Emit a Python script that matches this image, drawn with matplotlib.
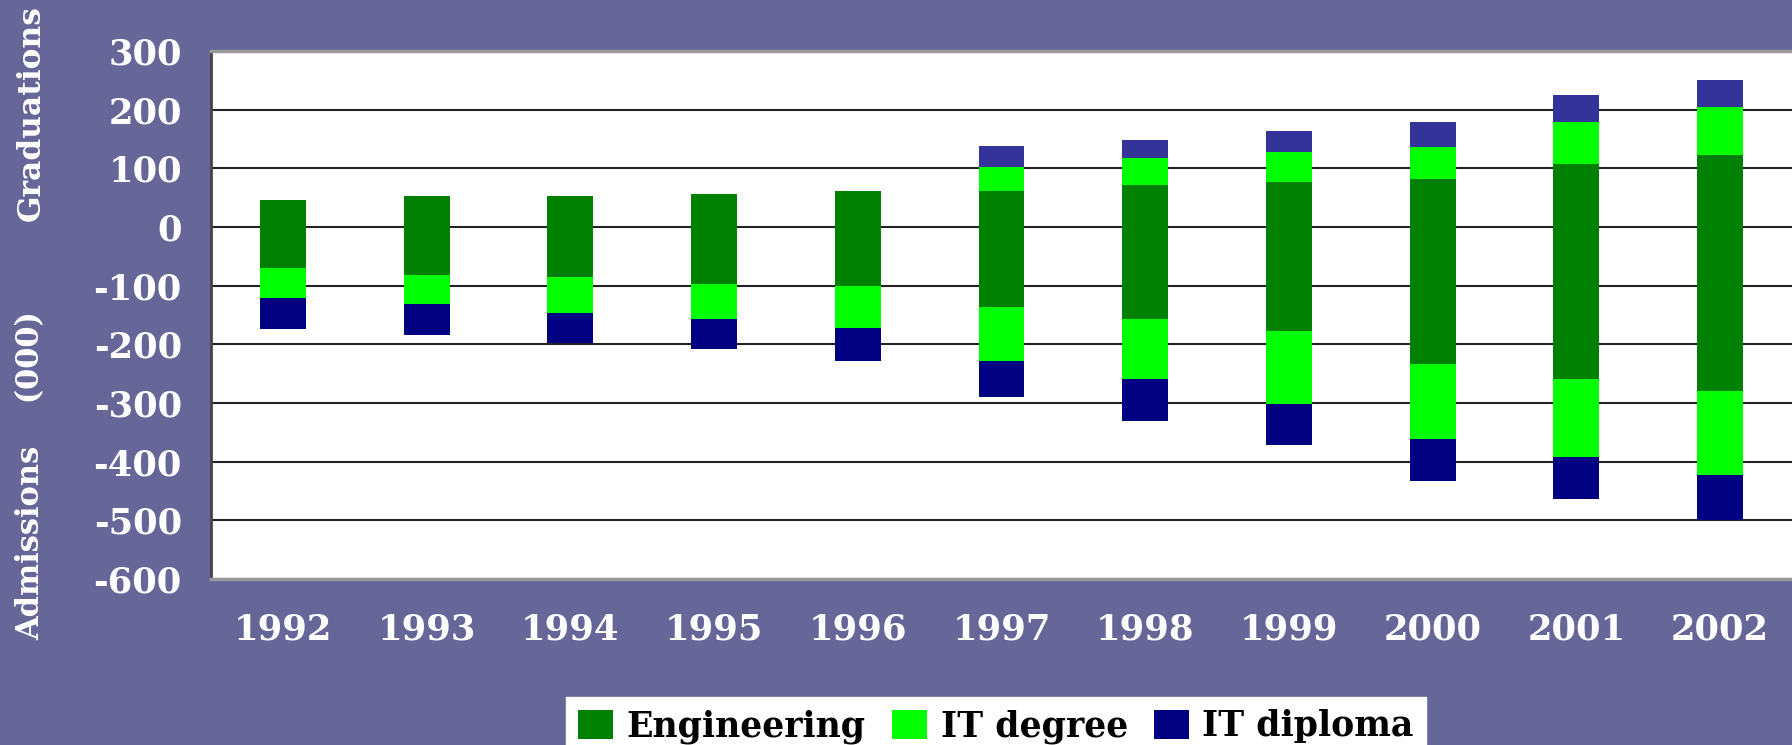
import matplotlib
matplotlib.use("Agg")
import matplotlib.pyplot as plt
import numpy as np
from matplotlib.patches import Patch

years = ["1992", "1993", "1994", "1995", "1996", "1997", "1998", "1999", "2000", "2001", "2002"]

# Graduations (positive, thousands)
eng_grad = [46, 53, 53, 56, 61, 61, 72, 77, 82, 107, 123]
itdeg_grad = [0, 0, 0, 0, 0, 42, 46, 51, 54, 72, 81]
itdip_grad = [0, 0, 0, 0, 0, 35, 30, 36, 43, 46, 46]

# Admissions (shown below zero, thousands)
eng_adm = [70, 82, 85, 97, 101, 136, 157, 177, 234, 259, 280]
itdeg_adm = [51, 49, 62, 60, 71, 92, 102, 124, 127, 133, 143]
itdip_adm = [53, 53, 51, 51, 56, 61, 71, 71, 72, 72, 77]

yticks = [300, 200, 100, 0, -100, -200, -300, -400, -500, -600]

BG = "#666699"
C_ENG = "#008000"
C_DEG = "#00FF00"
C_DIP = "#000080"
C_DIP_POS = "#333399"

fig = plt.figure(figsize=(17.92, 7.45), dpi=100, facecolor=BG)
ax = fig.add_axes([211 / 1792, (745 - 579) / 745, 1 - 211 / 1792, (579 - 51) / 745])
ax.set_facecolor("white")

x = np.arange(len(years))
w = 0.32
eg = np.array(eng_grad); dg = np.array(itdeg_grad); pg = np.array(itdip_grad)
ea = -np.array(eng_adm); da = -np.array(itdeg_adm); pa = -np.array(itdip_adm)

ax.bar(x, eg, w, color=C_ENG, zorder=3)
ax.bar(x, dg, w, bottom=eg, color=C_DEG, zorder=3)
ax.bar(x, pg, w, bottom=eg + dg, color=C_DIP_POS, zorder=3)
ax.bar(x, ea, w, color=C_ENG, zorder=3)
ax.bar(x, da, w, bottom=ea, color=C_DEG, zorder=3)
ax.bar(x, pa, w, bottom=ea + da, color=C_DIP, zorder=3)

ax.set_xlim(-0.5, len(years) - 0.5)
ax.set_ylim(-600, 300)
ax.set_yticks(yticks)
ax.set_yticklabels([str(v) for v in yticks])
ax.set_xticks(x)
ax.set_xticklabels(years)

ax.grid(axis="y", color="#222222", linewidth=1.5, zorder=1)
ax.tick_params(axis="both", length=0, colors="white")
ax.tick_params(axis="y", pad=21)
ax.tick_params(axis="x", pad=24)
for lab in ax.get_yticklabels() + ax.get_xticklabels():
    lab.set_family("DejaVu Serif")
    lab.set_weight("bold")
    lab.set_fontsize(25.5)
    lab.set_color("white")

for s in ["top", "bottom"]:
    ax.spines[s].set_color("#999999")
    ax.spines[s].set_linewidth(2.5)
ax.spines["left"].set_color("#444444")
ax.spines["left"].set_linewidth(2)
ax.spines["right"].set_visible(False)

fig.text(31 / 1792, 1 - 113 / 745, "Graduations", rotation=90, ha="center", va="center",
         color="white", fontsize=22.5, fontweight="bold", family="DejaVu Serif")
fig.text(31 / 1792, 1 - 476 / 745, "Admissions    (000)", rotation=90, ha="center", va="center",
         color="white", fontsize=22, fontweight="bold", family="DejaVu Serif")

handles = [Patch(facecolor=C_ENG), Patch(facecolor=C_DEG), Patch(facecolor=C_DIP)]
leg = fig.legend(handles, ["Engineering", "IT degree", "IT diploma"], loc="upper left",
                 bbox_to_anchor=(566 / 1792, 1 - 697 / 745), ncol=3, frameon=True,
                 fancybox=False, facecolor="white", edgecolor="white", framealpha=1,
                 prop={"family": "DejaVu Serif", "weight": "bold", "size": 25},
                 handlelength=1.0, handleheight=0.9, handletextpad=0.4, columnspacing=0.75,
                 borderpad=0.35, borderaxespad=0)

fig.savefig("out.png", dpi=100, facecolor=BG)
